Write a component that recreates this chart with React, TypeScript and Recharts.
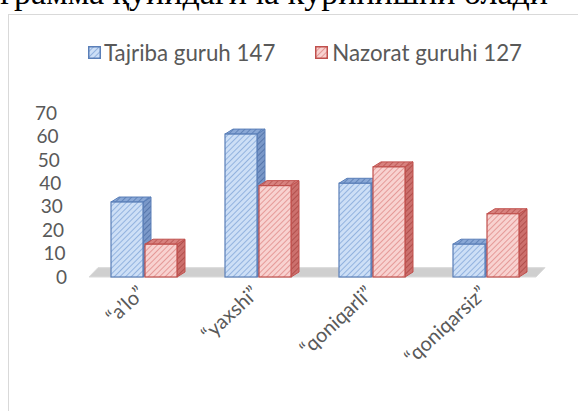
import React from 'react';
import { BarChart, Bar, XAxis, YAxis, ReferenceArea } from 'recharts';

const categories = ['“a’lo”', '“yaxshi”', '“qoniqarli”', '“qoniqarsiz”'];
const tajribaValues = [32, 61, 40, 14];
const nazoratValues = [14, 39, 47, 27];
const seriesNames = ['Tajriba guruh 147', 'Nazorat guruhi 127'];
const yTicks = [0, 10, 20, 30, 40, 50, 60, 70];
const headingText = 'Диаграмма қуйидагича кўринишни олади';

const data = categories.map((c, i) => ({ cat: c, t: tajribaValues[i], n: nazoratValues[i] }));

const FONT = 'Lato, "Open Sans", sans-serif';
const TXT = '#595959';
const PLOT_BOTTOM = 277;

const palette = {
  blue: { stroke: '#5a7fb8', front: 'hbF', top: 'hbT', side: 'hbS' },
  red: { stroke: '#c0504d', front: 'hrF', top: 'hrT', side: 'hrS' },
};

const Pattern = ({ id, bg, line }: { id: string; bg: string; line: string }) => (
  <pattern id={id} patternUnits="userSpaceOnUse" width="4" height="4" patternTransform="rotate(45)">
    <rect width="4" height="4" fill={bg} />
    <line x1="0" y1="0" x2="0" y2="4" stroke={line} strokeWidth="1.4" />
  </pattern>
);

const make3D = (c: { stroke: string; front: string; top: string; side: string }) => (props: any) => {
  const { x, y, width, height } = props;
  if (width == null || height == null) return null;
  const dx = 8;
  const dy = 5;
  const top = `${x},${y} ${x + dx},${y - dy} ${x + width + dx},${y - dy} ${x + width},${y}`;
  const side = `${x + width},${y} ${x + width + dx},${y - dy} ${x + width + dx},${y + height - dy} ${x + width},${y + height}`;
  return (
    <g>
      <polygon points={side} fill={`url(#${c.side})`} stroke={c.stroke} strokeWidth={1} />
      <polygon points={top} fill={`url(#${c.top})`} stroke={c.stroke} strokeWidth={1} />
      <rect x={x} y={y} width={width} height={height} fill={`url(#${c.front})`} stroke={c.stroke} strokeWidth={1.2} />
    </g>
  );
};

const YTick = (props: any) => {
  const { y, payload } = props;
  const xEnd = 67 - (PLOT_BOTTOM - y) * (10 / 164);
  return (
    <text x={xEnd} y={y} dy="0.35em" textAnchor="end" fill={TXT} fontSize={19} fontFamily={FONT}>
      {payload.value}
    </text>
  );
};

const XTick = (props: any) => {
  const { x, y, payload } = props;
  return (
    <text
      transform={`translate(${x + 2},${y + 10}) rotate(-43)`}
      textAnchor="end"
      fill={TXT}
      fontSize={20}
      fontFamily={FONT}
    >
      {payload.value}
    </text>
  );
};

const Floor = (props: any) => {
  const { x, y, width, height } = props;
  const off = 9;
  const pts = `${x + 2},${y + height} ${x + width - off + 2},${y + height} ${x + width + 2},${y} ${x + off + 2},${y}`;
  return <polygon points={pts} fill="#cfcfcf" stroke="#dadada" strokeWidth={1} />;
};

const LegendIcon = ({ c }: { c: { stroke: string; front: string } }) => (
  <svg width="13" height="13" style={{ display: 'block' }}>
    <rect x="0.75" y="0.75" width="11.5" height="11.5" fill={`url(#${c.front})`} stroke={c.stroke} strokeWidth="1.5" />
  </svg>
);

export default function App() {
  return (
    <div style={{ position: 'absolute', left: 0, top: 0, width: 578, height: 411, overflow: 'hidden', background: '#fff' }}>
      <svg width="0" height="0" style={{ position: 'absolute' }}>
        <defs>
          <Pattern id="hbF" bg="#cddff6" line="#7aa0d6" />
          <Pattern id="hbT" bg="#8aa8d6" line="#4f74ad" />
          <Pattern id="hbS" bg="#7a98c8" line="#46679e" />
          <Pattern id="hrF" bg="#f8d2d0" line="#de8280" />
          <Pattern id="hrT" bg="#d8827f" line="#b34b48" />
          <Pattern id="hrS" bg="#cc706d" line="#a6413e" />
        </defs>
      </svg>
      <div
        style={{
          position: 'absolute',
          right: 30,
          top: -27,
          fontFamily: '"Liberation Serif", "Times New Roman", serif',
          fontSize: 34,
          lineHeight: '40px',
          whiteSpace: 'nowrap',
          color: '#000',
        }}
      >
        {headingText}
      </div>
      <div
        style={{
          position: 'absolute',
          left: 8,
          top: 14,
          width: 620,
          height: 460,
          border: '1.5px solid #d9d9d9',
          boxSizing: 'border-box',
        }}
      />
      <div
        style={{
          position: 'absolute',
          left: 88,
          top: 39,
          display: 'flex',
          alignItems: 'center',
          fontFamily: FONT,
          fontSize: 22.3,
          color: TXT,
          whiteSpace: 'nowrap',
        }}
      >
        <LegendIcon c={palette.blue} />
        <span style={{ marginLeft: 3 }}>{seriesNames[0]}</span>
        <span style={{ display: 'inline-block', width: 40 }} />
        <LegendIcon c={palette.red} />
        <span style={{ marginLeft: 4 }}>{seriesNames[1]}</span>
      </div>
      <div style={{ position: 'absolute', left: 0, top: 0 }}>
        <BarChart
          width={578}
          height={411}
          data={data}
          margin={{ top: 113, right: 35, bottom: 0, left: 0 }}
          barSize={32}
          barGap={2}
        >
          <XAxis dataKey="cat" axisLine={false} tickLine={false} height={134} tick={<XTick />} interval={0} />
          <YAxis
            width={87}
            domain={[0, 70]}
            ticks={yTicks}
            axisLine={false}
            tickLine={false}
            tick={<YTick />}
            interval={0}
          />
          <ReferenceArea y1={0} y2={4} ifOverflow="visible" shape={<Floor />} />
          <Bar dataKey="t" name={seriesNames[0]} isAnimationActive={false} shape={make3D(palette.blue)} />
          <Bar dataKey="n" name={seriesNames[1]} isAnimationActive={false} shape={make3D(palette.red)} />
        </BarChart>
      </div>
    </div>
  );
}
